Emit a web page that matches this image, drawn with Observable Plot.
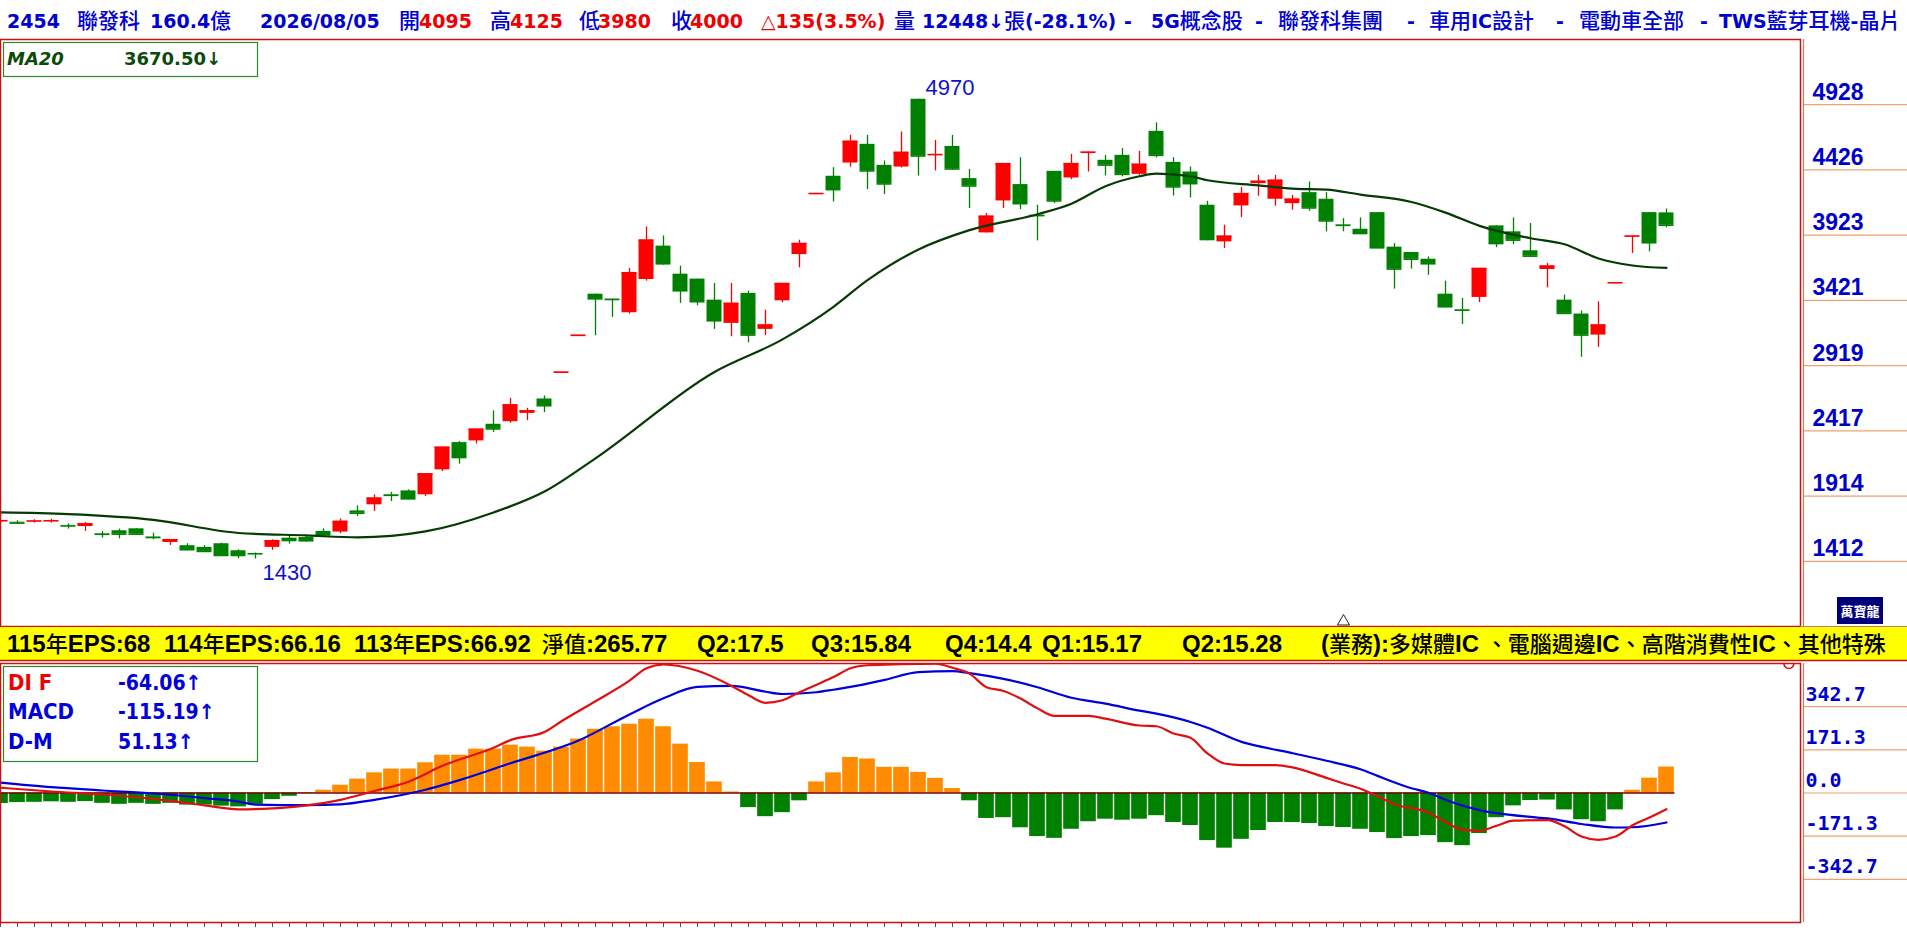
<!DOCTYPE html>
<html><head><meta charset="utf-8">
<script src="https://cdn.jsdelivr.net/npm/d3@7"></script>
<script src="https://cdn.jsdelivr.net/npm/@observablehq/plot@0.6"></script>
<style>
html,body{margin:0;padding:0;background:#fff;}
body{width:1907px;height:928px;overflow:hidden;position:relative;font-family:"Liberation Sans","Noto Sans CJK TC",sans-serif;}
.abs{position:absolute;left:0;}
</style></head><body>
<div id="main" class="abs" style="top:39px"></div>
<div id="lower" class="abs" style="top:663px"></div>
<script>
// ---------- data ----------
const open = [1722,1713,1720,1721,1688,1680,1623,1647,1662,1598,
1557,1532,1519,1547,1493,1472,1519,1590,1595,1642,
1637,1800,1847,1924,1954,1924,2116,2326,2339,2467,
2487,2551,2662,2866,3150,3469,3430,3326,3582,3839,
3623,3585,3423,3244,3475,3198,3418,3774,4241,4377,
4479,4623,4461,4448,4970,4541,4607,4359,3941,4187,
4313,4077,4415,4364,4560,4500,4538,4392,4723,4484,
4410,4154,3872,4149,4320,4200,4166,4251,4200,4002,
3969,4097,3831,3790,3738,3469,3348,3444,3995,3949,
3803,3659,3423,3316,3154,3555,3914,4097,4095];
const high = [1726,1724,1732,1735,1700,1711,1642,1660,1663,1629,
1580,1547,1532,1552,1501,1475,1578,1603,1603,1662,
1739,1839,1924,1942,1962,2085,2290,2334,2429,2570,
2667,2590,2685,2868,3153,3469,3430,3667,3987,3918,
3685,3585,3551,3551,3493,3346,3551,3885,4244,4443,
4692,4692,4495,4718,4970,4653,4692,4430,4090,4474,
4520,4154,4415,4546,4562,4538,4590,4569,4789,4520,
4448,4184,4000,4290,4384,4384,4230,4333,4251,4051,
4056,4097,3859,3790,3756,3569,3436,3667,3995,4056,
4013,3705,3462,3339,3410,3557,3916,4097,4125];
const low = [1718,1700,1706,1706,1660,1642,1590,1585,1616,1578,
1534,1496,1480,1450,1432,1430,1496,1544,1560,1608,
1624,1757,1796,1872,1885,1911,2103,2160,2316,2403,
2475,2495,2557,2866,3150,3149,3290,3316,3569,3692,
3398,3380,3198,3141,3095,3149,3403,3672,4241,4179,
4448,4274,4236,4441,4379,4418,4423,4128,3941,4128,
4120,3879,4166,4351,4410,4380,4372,4384,4518,4225,
4210,3880,3820,4059,4223,4146,4115,4108,3949,3949,
3928,3820,3508,3662,3615,3364,3236,3405,3828,3851,
3756,3518,3313,2983,3059,3555,3782,3795,3980];
const close = [1724,1706,1722,1724,1684,1700,1620,1621,1621,1595,
1578,1501,1488,1457,1457,1470,1570,1572,1570,1616,
1719,1782,1898,1920,1893,2085,2290,2211,2429,2431,
2616,2570,2610,2868,3152,3433,3428,3634,3885,3703,
3495,3411,3264,3398,3154,3231,3551,3859,4244,4274,
4646,4418,4318,4561,4533,4544,4433,4302,4069,4474,
4166,4074,4187,4474,4562,4463,4392,4469,4538,4295,
4320,3890,3915,4243,4338,4346,4200,4133,4033,3999,
3936,3826,3662,3738,3703,3372,3346,3667,3859,3885,
3762,3685,3321,3154,3231,3557,3916,3865,4000];

const maIdx = [0,4,9,14,18,21,25,29,32,35,42,46,49,51,54,57,61,63,65,67,68,70,71,74,76,78,80,83,85,87,90,92,94,96,98];
const maVal = [1788,1775,1731,1630,1611,1596,1642,1788,1949,2205,2870,3121,3372,3577,3813,3962,4085,4166,4300,4377,4397,4377,4346,4307,4282,4274,4236,4179,4097,3995,3900,3854,3744,3690,3671];

const difIdx = [0,3,6,10,12,14,16,18,20,22,24,26,29,30,32,33,35,37,38,39,41,43,44,45,46,47,48,49,50,51,53,55,56,57,58,59,60,61,62,64,65,67,68,69,70,71,72,73,75,76,78,79,80,81,82,84,85,86,87,88,89,91,92,93,94,95,96,97,98];
const difVal = [21,6,-6,-31,-49,-65,-61,-49,-27,8,45,108,180,210,242,285,364,446,495,510,485,425,388,358,368,400,430,460,495,507,511,513,497,474,420,405,375,336,306,306,295,268,265,236,219,157,117,111,111,102,60,38,17,-13,-45,-78,-115,-146,-149,-130,-110,-108,-132,-173,-186,-173,-128,-97,-64];

const macdIdx = [0,3,6,9,12,14,15,18,20,22,25,27,30,34,37,39,41,43,45,46,48,49,50,52,54,56,57,59,61,63,65,67,68,70,71,73,74,76,78,80,81,83,84,85,87,88,90,91,93,95,96,98];
const macdVal = [41,23,10,-2,-20,-34,-46,-48,-45,-27,13,51,118,208,312,376,421,425,402,393,400,410,421,449,480,484,476,453,420,378,355,327,315,282,259,203,186,158,128,94,68,19,1,-27,-68,-80,-95,-101,-123,-137,-136,-117];

const oscVal = [-42,-38,-37,-35,-37,-34,-41,-45,-41,-45,
-41,-48,-48,-52,-55,-45,-26,-13,-2,11,
31,55,80,95,95,120,150,150,174,174,
190,182,166,182,214,253,263,273,293,263,
194,121,44,4,-58,-94,-78,-31,44,80,
141,135,102,102,82,58,18,-31,-101,-98,
-138,-173,-180,-144,-114,-104,-108,-104,-90,-117,
-129,-189,-219,-184,-149,-117,-117,-121,-133,-137,
-144,-157,-181,-173,-169,-197,-209,-161,-98,-51,
-30,-28,-67,-106,-114,-67,11,59,103];

const priceTicks = [4928,4426,3923,3421,2919,2417,1914,1412];
const priceDomain = [909.75, 5430.25];
const oscTicks = [342.7,171.3,0,-171.3,-342.7];
const oscTickLabels = ["342.7","171.3","0.0","-171.3","-342.7"];
const oscDomain = [-514.05, 514.05];
const monthTickIdx = [13,33,53,74,96];
const markerIdx = [79];
const highLabel = {i:54, v:4970};
const lowLabel = {i:15, v:1430};

// ---------- tables ----------
const UP = "#ff0000", DOWN = "#008000";
const candles = open.map((o,i)=>({i, o, h:high[i], l:low[i], c:close[i],
  lo:Math.min(o,close[i]), hi:Math.max(o,close[i]), col: close[i]>=o ? UP : DOWN}));
const ma = maIdx.map((x,k)=>({x, v:maVal[k]}));
const dif = difIdx.map((x,k)=>({x, v:difVal[k]}));
const macd = macdIdx.map((x,k)=>({x, v:macdVal[k]}));
const osc = oscVal.map((v,i)=>({i, v}));
const N = open.length;

const PX = 17;               // pixels per trading day
const PLOT_W = 1800;
const xDom = [0, PLOT_W/PX];
const axisLeft = 1803/PX, axisRight = 1907/PX;
const BLUE = "#0000cc";

// ---------- main price panel ----------
const main = Plot.plot({
  width:1907, height:588, marginLeft:0, marginRight:107, marginTop:0, marginBottom:1,
  x:{domain:xDom, axis:null},
  y:{domain:priceDomain, axis:null},
  style:{background:"transparent", overflow:"visible"},
  marks:[
    Plot.ruleY(priceTicks, {x1:axisLeft, x2:axisRight, stroke:"#f0a070", strokeWidth:1.2}),
    Plot.ruleX([axisLeft], {stroke:"#d07a64", strokeWidth:1.2}),
    Plot.ruleX(candles, {x:"i", y1:"l", y2:"h", stroke:"col", strokeWidth:1.3, clip:true}),
    Plot.rect(candles, {x1:d=>d.i-0.44, x2:d=>d.i+0.44, y1:"lo", y2:"hi", fill:"col", clip:true}),
    Plot.ruleY(candles, {y:"c", x1:d=>d.i-0.44, x2:d=>d.i+0.44, stroke:"col", strokeWidth:1.6, clip:true}),
    Plot.line(ma, {x:"x", y:"v", stroke:"#043a04", strokeWidth:2.2, curve:"monotone-x", clip:true}),
    Plot.text([highLabel], {x:"i", y:"v", text:d=>String(d.v), textAnchor:"start", lineAnchor:"bottom", dx:7, dy:-4, fill:"#1010cc", fontSize:22, fontFamily:"Liberation Sans"}),
    Plot.text([lowLabel], {x:"i", y:"v", text:d=>String(d.v), textAnchor:"start", lineAnchor:"top", dx:7, dy:5, fill:"#1010cc", fontSize:22, fontFamily:"Liberation Sans"}),
    Plot.dot(markerIdx, {x:d=>d, y:priceDomain[0], symbol:"triangle", r:4.5, dy:-5, stroke:"#222", strokeWidth:1, fill:"none"}),
    Plot.text(priceTicks, {x:1812/PX, y:d=>d, text:d=>String(d), textAnchor:"start", lineAnchor:"bottom", dy:-5, fill:BLUE, fontSize:23, fontWeight:"bold", fontFamily:"Liberation Sans"}),
    Plot.frame({stroke:"#cc1010", strokeWidth:1.5})
  ]
});
document.getElementById("main").appendChild(main);

// ---------- MACD panel ----------
const lower = Plot.plot({
  width:1907, height:265, marginLeft:0, marginRight:107, marginTop:0, marginBottom:6,
  x:{domain:xDom},
  y:{domain:oscDomain, axis:null},
  style:{background:"transparent", overflow:"visible"},
  marks:[
    Plot.ruleY(oscTicks, {x1:axisLeft, x2:axisRight, stroke:"#f0a070", strokeWidth:1.2}),
    Plot.ruleX([axisLeft], {stroke:"#d07a64", strokeWidth:1.2}),
    Plot.rect(osc, {x1:d=>d.i-0.46, x2:d=>d.i+0.46, y1:0, y2:"v", fill:d=>d.v>=0?"#ff8c00":"#008000", clip:true}),
    Plot.ruleY([0], {x1:0, x2:N-0.5, stroke:"#7a0000", strokeWidth:1.3}),
    Plot.line(macd, {x:"x", y:"v", stroke:"#0000dd", strokeWidth:2.2, curve:"monotone-x", clip:true}),
    Plot.line(dif, {x:"x", y:"v", stroke:"#e01010", strokeWidth:2.2, curve:"monotone-x", clip:true}),
    Plot.dot([105.2], {x:d=>d, y:oscDomain[1], r:5, stroke:"#e01010", strokeWidth:1.6, fill:"none", clip:true}),
    Plot.text(oscTicks, {x:1805/PX, y:d=>d, text:(d,i)=>oscTickLabels[i], textAnchor:"start", lineAnchor:"bottom", dy:-6, fill:BLUE, fontSize:20, fontWeight:"bold", fontFamily:"DejaVu Sans Mono"}),
    Plot.axisX({ticks:d3.range(0,N), tickSize:5, tickFormat:()=>"", label:null, stroke:"#555", strokeWidth:1}),
    Plot.axisX({ticks:monthTickIdx, tickSize:5, tickFormat:()=>"", label:null, stroke:"#dd0000", strokeWidth:1}),
    Plot.frame({stroke:"#cc1010", strokeWidth:1.5})
  ]
});
document.getElementById("lower").appendChild(lower);

// ---------- overlay texts (title, info band, legends) ----------
const ov = d3.select("body").append("svg")
  .attr("width",1907).attr("height",928)
  .style("position","absolute").style("left","0").style("top","0").style("pointer-events","none");

const cjkRe = /([\u2E80-\u9FFF\uF900-\uFAFF\uFF00-\uFFEF\u3000-\u303F]+)/;
const cjkTest = /[\u2E80-\u9FFF\uF900-\uFAFF\uFF00-\uFFEF\u3000-\u303F]/;
function rich(x, y, str, opt){
  const t = ov.append("text").attr("x",x).attr("y",y).attr("fill",opt.color)
    .attr("font-size",opt.size).attr("font-weight",opt.weight||"normal")
    .attr("font-family",opt.font||"Liberation Sans").attr("xml:space","preserve");
  str.split(cjkRe).filter(s=>s.length).forEach(p=>{
    const ts = t.append("tspan").text(p);
    if (cjkTest.test(p)) ts.attr("font-family","Noto Sans CJK TC").attr("font-size",opt.cjk||opt.size).attr("font-weight",opt.cjkWeight||opt.weight||"normal");
  });
  return t;
}

// title line
const TB = "#0000d0", TR = "#ee0000";
const last = N-1;
const prevClose = close[last-1];
const chg = close[last]-prevClose;
const titleParts = [
  ["2454",7,TB],["聯發科",77,TB],["160.4億",150,TB],["2026/08/05",260,TB],
  ["開",399,TB],[String(open[last]),419,TR],
  ["高",490,TB],[String(high[last]),510,TR],
  ["低",579,TB],[String(low[last]),598,TR],
  ["收",671,TB],[String(close[last]),690,TR],
  ["△"+chg+"("+(chg/prevClose*100).toFixed(1)+"%)",761,TR],
  ["量",894,TB],["12448↓張(-28.1%)",922,TB],
  ["-",1124,TB],["5G概念股",1151,TB],["-",1255,TB],["聯發科集團",1278,TB],
  ["-",1407,TB],["車用IC設計",1429,TB],["-",1556,TB],["電動車全部",1579,TB],
  ["-",1700,TB],["TWS藍芽耳機-晶片",1719,TB]
];
titleParts.forEach(([s,x,c])=>rich(x, 27.5, s, {color:c, size:19, cjk:21, weight:"bold", cjkWeight:"500", font:"DejaVu Sans"}));

// info band
ov.append("rect").attr("x",0).attr("y",627).attr("width",1907).attr("height",33).attr("fill","#ffff00");
ov.append("line").attr("x1",0).attr("x2",1907).attr("y1",660.5).attr("y2",660.5).attr("stroke","#cc1010").attr("stroke-width",1.5);
ov.append("line").attr("x1",1800).attr("x2",1907).attr("y1",626.5).attr("y2",626.5).attr("stroke","#d07a64").attr("stroke-width",1);
const bandParts = [
  ["115年EPS:68",7],["114年EPS:66.16",164],["113年EPS:66.92",354],["淨值:265.77",542],
  ["Q2:17.5",697],["Q3:15.84",811],["Q4:14.4",945],["Q1:15.17",1042],["Q2:15.28",1182],
  ["(業務):多媒體IC 、電腦週邊IC、高階消費性IC、其他特殊",1321]
];
bandParts.forEach(([s,x])=>rich(x, 652, s, {color:"#000", size:24, cjk:22, weight:"bold", cjkWeight:"500"}));

// MA20 legend box
ov.append("rect").attr("x",3.5).attr("y",42.5).attr("width",254).attr("height",34).attr("fill","#fff").attr("stroke","#2a8a2a").attr("stroke-width",1.2);
rich(7, 65, "MA20", {color:"#0b4a0b", size:18, weight:"bold", font:"DejaVu Sans"}).attr("font-style","italic");
rich(124, 65, "3670.50↓", {color:"#0b4a0b", size:18, weight:"bold", font:"DejaVu Sans"});

// MACD legend box
const LF = "'DejaVu Sans Condensed','DejaVu Sans'";
ov.append("rect").attr("x",3.5).attr("y",666.5).attr("width",254).attr("height",95).attr("fill","#fff").attr("stroke","#2a8a2a").attr("stroke-width",1.2);
rich(8, 690, "DI F", {color:"#ee0000", size:22, weight:"bold", font:LF});
rich(118, 690, "-64.06↑", {color:"#0000dd", size:21, weight:"bold", font:LF});
rich(8, 719, "MACD", {color:"#0000dd", size:22, weight:"bold", font:LF});
rich(118, 719, "-115.19↑", {color:"#0000dd", size:21, weight:"bold", font:LF});
rich(8, 749, "D-M", {color:"#0000dd", size:22, weight:"bold", font:LF});
rich(118, 749, "51.13↑", {color:"#0000dd", size:21, weight:"bold", font:LF});

// logo
ov.append("rect").attr("x",1837).attr("y",597).attr("width",46).attr("height",27).attr("fill","#00007a");
rich(1860, 616, "萬寶龍", {color:"#fff", size:13, cjk:13, weight:"bold"}).attr("text-anchor","middle");
</script>
</body></html>
